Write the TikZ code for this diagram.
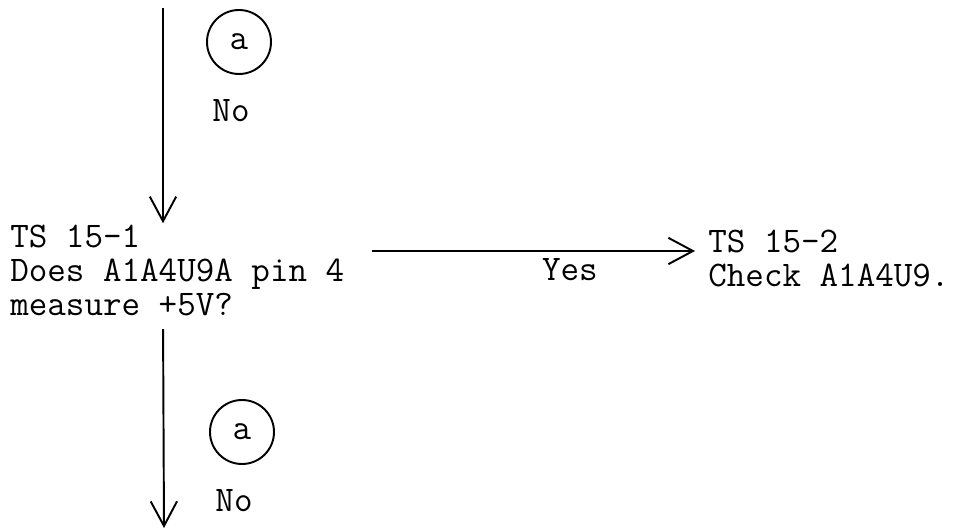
\documentclass[tikz,border=0pt]{standalone}
\usepackage{fontspec}
\usetikzlibrary{arrows.meta,positioning}
\newcommand{\typed}{\ttfamily\fontsize{20.5}{19.2}\selectfont\addfontfeature{FakeBold=1.2}}
\tikzset{
	flow/.style={line width=1.1pt,-{Straight Barb[length=14pt,width=15pt,line width=1.1pt]}},
	tsbox/.style={font=\typed,align=left,inner sep=0pt,anchor=north west},
	tagcirc/.style={circle,draw,line width=1.1pt,minimum size=1.28cm,inner sep=0pt,font=\typed},
	nolabel/.style={font=\typed,inner sep=0pt}
}
\newcommand{\tagno}[2]{\node[tagcirc] (#1) at #2 {a}; \node[nolabel,below=0.48cm of #1,xshift=-0.16cm] (#1no) {No};}

\begin{document}
\begin{tikzpicture}[x=0.02cm,y=0.02cm]
		\useasboundingbox (0,0) rectangle (970,531);
		\coordinate (in) at (163,523);
		\coordinate (out) at (164,3);
		\node[tsbox] (q) at (10,306) {TS 15-1\\Does A1A4U9A pin 4\\measure +5V?};
		\node[tsbox] (r) at (708,301) {TS 15-2\\Check A1A4U9.};
		\coordinate (yesin) at ([yshift=-0.42cm]r.north west);
		\tagno{ta}{(239,489)}
		\tagno{tb}{(242,99)}
		\draw[flow,shorten >=1pt] (in) -- (in |- q.north);
		\draw[flow,shorten <=0.54cm,shorten >=0.26cm] (yesin -| q.east) -- node[below,pos=0.62,inner sep=0pt,yshift=-0.14cm,font=\typed] (yes) {Yes} (yesin);
		\draw[flow,shorten <=0.26cm] (q.south -| in) -- (out);
\end{tikzpicture}
\end{document}
